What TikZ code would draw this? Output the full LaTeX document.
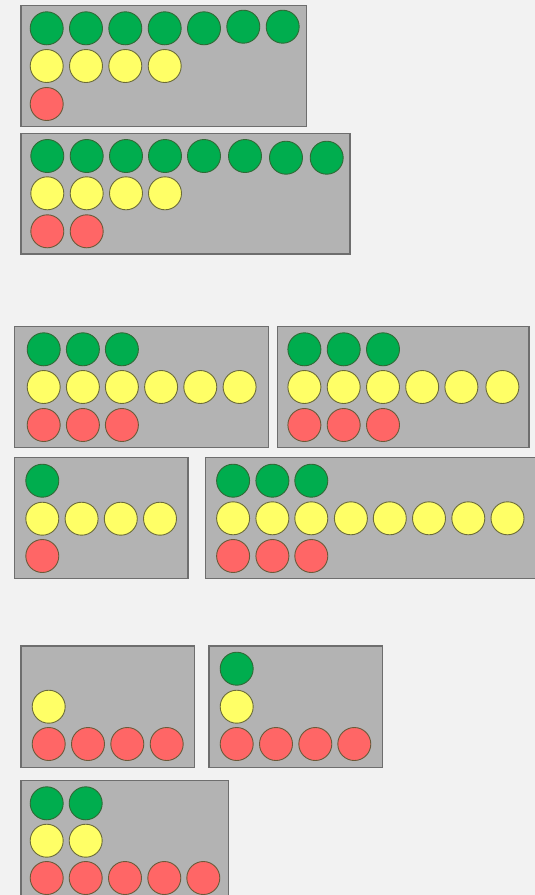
\documentclass[tikz,border=0pt]{standalone}
\usepackage{tikz}
\definecolor{bgc}{HTML}{F2F2F2}
\definecolor{panelfill}{HTML}{B3B3B3}
\definecolor{panelline}{HTML}{6E6E6E}
\definecolor{gfill}{HTML}{00AD4E}
\definecolor{gline}{HTML}{2F6A35}
\definecolor{yfill}{HTML}{FFFF66}
\definecolor{yline}{HTML}{6B6B3A}
\definecolor{rfill}{HTML}{FF6666}
\definecolor{rline}{HTML}{6B5A3A}
\tikzset{
  panel/.style={fill=panelfill,draw=panelline,line width=1.3pt},
  ball/.style={circle,inner sep=0pt,minimum size=33pt,line width=0.9pt},
  gball/.style={ball,fill=gfill,draw=gline},
  yball/.style={ball,fill=yfill,draw=yline},
  rball/.style={ball,fill=rfill,draw=rline}
}
\newcommand\ballrow[4]{\foreach \xx [count=\ii] in {#4} {\node[#2] (#1\ii) at (\xx,#3) {};}}
\begin{document}
\begin{tikzpicture}[x=1pt,y=-1pt]
\fill[bgc] (0,0) rectangle (535,895);
\useasboundingbox (0,0) rectangle (535,895);
\clip (0,0) rectangle (535,895);
% panel 1
\draw[panel] (21,5.5) rectangle (306.5,126.5);
\ballrow{pa-g}{gball}{28.3}{46.7,86,125.3,164.7,204}
\node[gball] (pa-g6) at (243.3,26.7) {};
\node[gball] (pa-g7) at (282.7,26.7) {};
\ballrow{pa-y}{yball}{66}{46.7,86,125.3,164.7}
\ballrow{pa-r}{rball}{104}{46.7}
% panel 2
\draw[panel] (21,133.3) rectangle (350,254);
\ballrow{pb-g}{gball}{156}{47.3,86.7,126,165,204,245}
\node[gball] (pb-g7) at (286,157.7) {};
\node[gball] (pb-g8) at (326.7,157.7) {};
\ballrow{pb-y}{yball}{193.3}{47.3,86.7,126,165}
\ballrow{pb-r}{rball}{231.3}{47.3,86.7}
% panel 3
\draw[panel] (14.3,326.7) rectangle (268.5,447.7);
\ballrow{pc-g}{gball}{349.3}{43.7,82.9,121.9}
\ballrow{pc-y}{yball}{387}{43.7,82.9,121.9,161.1,200.3,239.6}
\ballrow{pc-r}{rball}{425}{43.7,82.9,121.9}
% panel 4
\draw[panel] (277.8,326.7) rectangle (529,447.7);
\ballrow{pd-g}{gball}{349.3}{304.4,343.7,383}
\ballrow{pd-y}{yball}{387}{304.4,343.7,383,422.2,461.4,502.4}
\ballrow{pd-r}{rball}{425}{304.4,343.7,383}
% panel 5
\draw[panel] (14.3,457.7) rectangle (188,578.7);
\ballrow{pe-g}{gball}{480.7}{42.3}
\ballrow{pe-y}{yball}{518.7}{42.3,81.6,120.8,160}
\ballrow{pe-r}{rball}{556}{42.3}
% panel 6
\draw[panel] (205.5,457.7) rectangle (537,578.7);
\ballrow{pf-g}{gball}{480.7}{233.1,272.4,311.3}
\ballrow{pf-y}{yball}{518.3}{233.1,272.4,311.3,350.9,389.8,429,468.3,507.5}
\ballrow{pf-r}{rball}{556}{233.1,272.4,311.3}
% panel 7
\draw[panel] (21,646) rectangle (194.3,767.3);
\ballrow{pg-y}{yball}{706.7}{48.7}
\ballrow{pg-r}{rball}{744}{48.7,88,127.3,166.7}
% panel 8
\draw[panel] (209,646) rectangle (382.3,767.3);
\ballrow{ph-g}{gball}{668.7}{236.7}
\ballrow{ph-y}{yball}{706.7}{236.7}
\ballrow{ph-r}{rball}{744}{236.7,276,315.3,354.3}
% panel 9
\draw[panel] (21,780.7) rectangle (228.7,905);
\ballrow{pi-g}{gball}{803.3}{46.7,85.7}
\ballrow{pi-y}{yball}{840.7}{46.7,85.7}
\ballrow{pi-r}{rball}{878}{46.7,85.7,125,164.3,203.3}
\end{tikzpicture}
\end{document}
